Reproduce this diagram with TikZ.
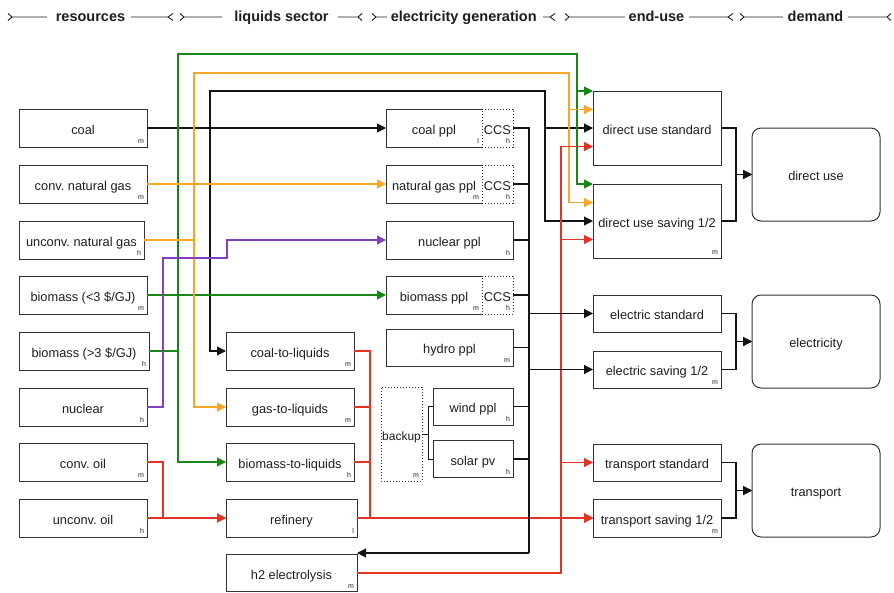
\documentclass[tikz,border=0pt]{standalone}
\usepackage{fontspec}
\setmainfont{Liberation Sans}
\usetikzlibrary{arrows.meta}

\definecolor{ink}{RGB}{30,30,30}
\definecolor{frame}{RGB}{50,50,50}
\definecolor{coalc}{RGB}{20,20,20}
\definecolor{gasc}{RGB}{247,166,38}
\definecolor{bioc}{RGB}{24,135,24}
\definecolor{nucc}{RGB}{128,64,192}
\definecolor{oilc}{RGB}{226,52,36}

\tikzset{
  box/.style={draw=frame, line width=1pt, inner sep=0pt, outer sep=0pt,
    text=ink, font=\fontsize{12.8}{15}\selectfont, align=center,
    text height=15.6pt, text depth=3pt},
  openbox/.style={box, draw=none},
  dotbox/.style={box, dotted},
  demandbox/.style={box, rounded corners=9pt, minimum width=128pt, minimum height=93pt},
  tag/.style={inner sep=0pt, outer sep=0pt, text=ink,
    font=\fontsize{7}{8}\selectfont, anchor=south east},
  flow/.style={line width=1.1pt, draw=coalc},
  tip/.style={flow, -{Triangle[length=9pt,width=9pt]}},
  ebus/.style={line width=1.6pt, draw=coalc},
  thin/.style={line width=0.9pt, draw=coalc},
  hdr/.style={draw=ink, line width=0.9pt},
  hdrtext/.style={inner sep=0pt, text=ink, anchor=base,
    font=\fontsize{14.5}{16}\selectfont\bfseries},
}
% small cost letter in the lower right corner of a box
\newcommand\cornertag[2]{\node[tag] (#1-tag) at ([xshift=-3pt,yshift=3.5pt]#1.south east) {#2};}
% solid frame on three sides, the right side is shared with the CCS box
\newcommand\threeside[1]{\draw[draw=frame, line width=1pt] (#1.north east) -| (#1.south west) -- (#1.south east);}

\begin{document}
\frenchspacing
\begin{tikzpicture}[x=1pt,y=-1pt]
\useasboundingbox (0,0) rectangle (894,592);

% ---------------- header ----------------
\draw[hdr] (8,13.5) -- (12,17) -- (8,20.5) (12,17) -- (47,17);
\draw[hdr] (131,17) -- (168,17) (173,13.5) -- (168,17) -- (173,20.5);
\node[hdrtext] (h-res) at (90.5,21.5) {resources};

\draw[hdr] (180,13.5) -- (184,17) -- (180,20.5) (184,17) -- (222,17);
\draw[hdr] (338,17) -- (358,17) (362,13.5) -- (358,17) -- (362,20.5);
\node[hdrtext] (h-liq) at (281.5,21.5) {liquids sector};

\draw[hdr] (372,13.5) -- (376,17) -- (372,20.5) (376,17) -- (387,17);
\draw[hdr] (543,17) -- (550,17) (555,13.5) -- (550,17) -- (555,20.5);
\node[hdrtext] (h-ele) at (463.7,21.5) {electricity generation};

\draw[hdr] (565,13.5) -- (569,17) -- (565,20.5) (569,17) -- (625,17);
\draw[hdr] (689,17) -- (728,17) (733,13.5) -- (728,17) -- (733,20.5);
\node[hdrtext] (h-end) at (656.5,21.5) {end-use};

\draw[hdr] (740,13.5) -- (744,17) -- (740,20.5) (744,17) -- (783,17);
\draw[hdr] (848,17) -- (887,17) (891,13.5) -- (887,17) -- (891,20.5);
\node[hdrtext] (h-dem) at (815.5,21.5) {demand};

% ---------------- resources ----------------
\node[box, minimum width=128pt, minimum height=38pt] (coal) at (83,128) {coal};
\node[box, minimum width=128pt, minimum height=38pt] (cng) at (83,184) {conv. natural gas};
\node[box, minimum width=125pt, minimum height=38pt] (ung) at (81.5,240) {unconv. natural gas};
\node[box, minimum width=128pt, minimum height=38pt] (bm1) at (83,295) {biomass (<3 \$/GJ)};
\node[box, minimum width=130pt, minimum height=38pt] (bm2) at (84,351) {biomass (>3 \$/GJ)};
\node[box, minimum width=128pt, minimum height=38pt] (nuc) at (83,407) {nuclear};
\node[box, minimum width=128pt, minimum height=38pt] (coil) at (83,462) {conv. oil};
\node[box, minimum width=128pt, minimum height=38pt] (uoil) at (83,518) {unconv. oil};
\cornertag{coal}{m}
\cornertag{cng}{m}
\cornertag{ung}{h}
\cornertag{bm1}{m}
\cornertag{bm2}{h}
\cornertag{nuc}{h}
\cornertag{coil}{m}
\cornertag{uoil}{h}

% ---------------- liquids sector ----------------
\node[box, minimum width=128pt, minimum height=38pt] (ctl) at (290,351) {coal-to-liquids};
\node[box, minimum width=128pt, minimum height=38pt] (gtl) at (290,407) {gas-to-liquids};
\node[box, minimum width=128pt, minimum height=38pt] (btl) at (290,462) {biomass-to-liquids};
\node[box, minimum width=131pt, minimum height=38pt] (ref) at (291.5,518) {refinery};
\node[box, minimum width=131pt, minimum height=37pt] (h2) at (291.5,573) {h2 electrolysis};
\cornertag{ctl}{m}
\cornertag{gtl}{m}
\cornertag{btl}{h}
\cornertag{ref}{l}
\cornertag{h2}{m}

% ---------------- electricity generation ----------------
\node[openbox, minimum width=96pt, minimum height=38pt] (cppl) at (434,128) {coal ppl};
\node[openbox, minimum width=96pt, minimum height=38pt] (gppl) at (434,184) {natural gas ppl};
\node[openbox, minimum width=96pt, minimum height=38pt] (bppl) at (434,295) {biomass ppl};
\threeside{cppl}
\threeside{gppl}
\threeside{bppl}
\node[dotbox, minimum width=31pt, minimum height=38pt] (ccs1) at (497.5,128) {CCS};
\node[dotbox, minimum width=31pt, minimum height=38pt] (ccs2) at (497.5,184) {CCS};
\node[dotbox, minimum width=31pt, minimum height=38pt] (ccs3) at (497.5,295) {CCS};
\node[box, minimum width=127pt, minimum height=38pt] (nppl) at (449.5,240) {nuclear ppl};
\node[box, minimum width=127pt, minimum height=37pt] (hppl) at (449.5,347.5) {hydro ppl};
\node[box, minimum width=80pt, minimum height=37pt] (wppl) at (473,406.5) {wind ppl};
\node[box, minimum width=80pt, minimum height=37pt] (spv) at (473,459) {solar pv};
\node[dotbox, minimum width=41pt, minimum height=94pt, font=\fontsize{12}{14}\selectfont] (backup) at (401.5,434) {backup};
\cornertag{cppl}{l}
\cornertag{gppl}{m}
\cornertag{bppl}{m}
\cornertag{ccs1}{h}
\cornertag{ccs2}{h}
\cornertag{ccs3}{h}
\cornertag{nppl}{h}
\cornertag{hppl}{m}
\cornertag{wppl}{h}
\cornertag{spv}{h}
\cornertag{backup}{m}

% ---------------- end-use ----------------
\node[box, minimum width=128pt, minimum height=74pt] (dus) at (657,128) {direct use standard};
\node[box, minimum width=128pt, minimum height=74pt] (dusv) at (657,221) {direct use saving 1/2};
\node[box, minimum width=128pt, minimum height=37pt] (es) at (657,313.5) {electric standard};
\node[box, minimum width=128pt, minimum height=37pt] (esv) at (657,369.5) {electric saving 1/2};
\node[box, minimum width=128pt, minimum height=37pt] (ts) at (657,462.5) {transport standard};
\node[box, minimum width=128pt, minimum height=38pt] (tsv) at (657,518) {transport saving 1/2};
\cornertag{dusv}{m}
\cornertag{esv}{m}
\cornertag{tsv}{m}

% ---------------- demand ----------------
\node[demandbox] (du) at (816,174.5) {direct use};
\node[demandbox] (el) at (816,341.5) {electricity};
\node[demandbox] (tr) at (816,490.5) {transport};

% ---------------- coal (black) ----------------
\draw[tip] (coal.east) -- (cppl.west);
\draw[tip] (coal.east) -| ([xshift=-16pt]ctl.west) -- (ctl.west);
\draw[tip] (coal.east) -- (210,128) |- (545,91) |- (dus.west);
\draw[tip] (coal.east) -- (210,128) |- (545,91) |- (dusv.west);

% ---------------- biomass (green) ----------------
\draw[tip, draw=bioc] (bm1.east) -- (bppl.west);
\draw[tip, draw=bioc] (bm2.east) -| ([xshift=-48pt]btl.west) -- (btl.west);
\draw[tip, draw=bioc] (bm2.east) -- (178,351) |- (577,54) |- (dus.north west);
\draw[tip, draw=bioc] (bm2.east) -- (178,351) |- (577,54) |- (dusv.north west);

% ---------------- gas (orange) ----------------
\draw[tip, draw=gasc] (cng.east) -- (gppl.west);
\draw[tip, draw=gasc] (ung.east) -| ([xshift=-32pt]gtl.west) -- (gtl.west);
\draw[tip, draw=gasc] (ung.east) -- (194,240) |- (569,73) |- ([yshift=18.5pt]dus.west);
\draw[tip, draw=gasc] (ung.east) -- (194,240) |- (569,73) |- ([yshift=18.5pt]dusv.west);

% ---------------- nuclear (purple) ----------------
\draw[tip, draw=nucc] (nuc.east) -- (163,407) |- (227,258) |- (nppl.west);

% ---------------- oil and liquids (red) ----------------
\draw[tip, draw=oilc] (coil.east) -| ([xshift=-63pt]ref.west) -- (ref.west);
\draw[tip, draw=oilc] (uoil.east) -- (ref.west);
\draw[tip, draw=oilc] (ref.east) -- (tsv.west);
\draw[tip, draw=oilc] (ctl.east) -| (370,518) -- (tsv.west);
\draw[tip, draw=oilc] (gtl.east) -| (370,518) -- (tsv.west);
\draw[tip, draw=oilc] (btl.east) -| (370,518) -- (tsv.west);
\draw[tip, draw=oilc] (h2.east) -| (561,146.5) -- ([yshift=-18.5pt]dus.west);
\draw[tip, draw=oilc] (h2.east) -| (561,239.5) -- ([yshift=-18.5pt]dusv.west);
\draw[tip, draw=oilc] (h2.east) -| (561,462.5) -- (ts.west);

% ---------------- electricity bus ----------------
\coordinate (ebbot) at (529,553);
\draw[ebus] (ccs1.east) -| (ebbot);
\draw[flow] (ccs2.east) -- (ccs2.east -| ebbot);
\draw[flow] (nppl.east) -- (nppl.east -| ebbot);
\draw[flow] (ccs3.east) -- (ccs3.east -| ebbot);
\draw[flow] (hppl.east) -- (hppl.east -| ebbot);
\draw[flow] (wppl.east) -- (wppl.east -| ebbot);
\draw[flow] (spv.east) -- (spv.east -| ebbot);
\draw[tip] (es.west -| ebbot) -- (es.west);
\draw[tip] (esv.west -| ebbot) -- (esv.west);
\draw[tip] (ebbot) -- ([yshift=1.5pt]h2.north east);

% backup serves wind and solar
\draw[thin] (backup.east) -- (428,434) |- (wppl.west);
\draw[thin] (backup.east) -- (428,434) |- (spv.west);

% ---------------- end-use to demand ----------------
\coordinate (dj1) at (736,174.5);
\coordinate (dj2) at (736,341.5);
\coordinate (dj3) at (736,490.5);
\draw[tip] (dus.east) -| (dj1) -- (du.west);
\draw[tip] (dusv.east) -| (dj1) -- (du.west);
\draw[tip] (es.east) -| (dj2) -- (el.west);
\draw[tip] (esv.east) -| (dj2) -- (el.west);
\draw[tip] (ts.east) -| (dj3) -- (tr.west);
\draw[tip] (tsv.east) -| (dj3) -- (tr.west);

\end{tikzpicture}
\end{document}
